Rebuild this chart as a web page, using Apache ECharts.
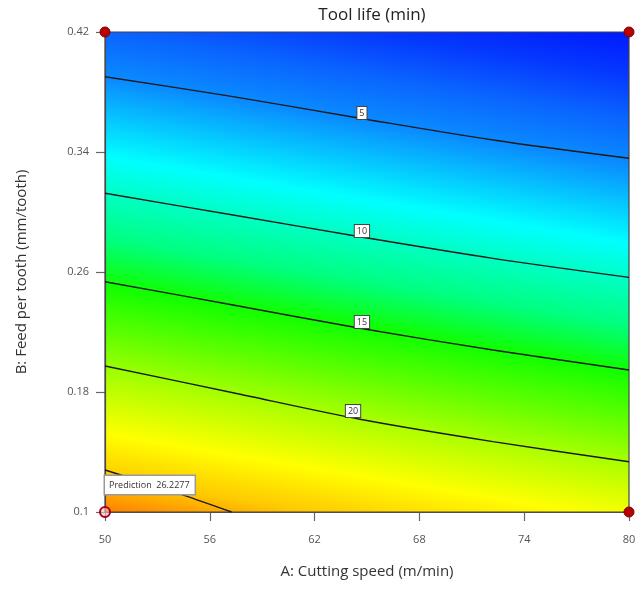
<!DOCTYPE html>
<html>
<head>
<meta charset="utf-8">
<title>Tool life (min)</title>
<script src="https://cdn.jsdelivr.net/npm/echarts@6/dist/echarts.min.js"></script>
<style>
  html, body { margin: 0; padding: 0; background: #fff; }
  #chart { width: 644px; height: 590px; }
</style>
</head>
<body>
<div id="chart"></div>
<script>
// axis ticks
var xTicks = [50, 56, 62, 68, 74, 80];
var yTicks = [0.1, 0.18, 0.26, 0.34, 0.42];

// contour levels and points: [cutting speed, feed per tooth]
var levels = [5, 10, 15, 20, 25];
var contour5 = [[50, 0.3902], [57.33, 0.3769], [64.6, 0.3625], [72.21, 0.348], [80, 0.3358]];
var contour10 = [[50, 0.3125], [57.33, 0.298], [64.6, 0.2835], [72.21, 0.2691], [80, 0.2564]];
var contour15 = [[50, 0.2535], [57.33, 0.238], [64.6, 0.2225], [72.21, 0.208], [80, 0.1947]];
var contour20 = [[50, 0.1973], [57.33, 0.1795], [64.6, 0.1618], [72.21, 0.1469], [80, 0.1335]];
var contour25 = [[50, 0.128], [54.48, 0.1113], [57.25, 0.1]];
var contours = [contour5, contour10, contour15, contour20, contour25];

// where the level labels sit
var labelX = [64.71, 64.71, 64.71, 64.2, 53.3];
var labelY = [0.366, 0.2873, 0.2267, 0.1673, 0.12];

// design points (corners) and the prediction
var designPoints = [[50, 0.42], [80, 0.42], [80, 0.1]];
var predictionPoint = [50, 0.1];
var predictionValue = 26.2277;

var font = '"Open Sans", "Noto Sans", sans-serif';
var chart = echarts.init(document.getElementById('chart'));

var series = [];
for (var i = 0; i < contours.length; i++) {
    series.push({
        name: 'contour ' + levels[i],
        type: 'line',
        data: contours[i],
        smooth: 0.3,
        symbol: 'none',
        silent: true,
        z: 3,
        lineStyle: { color: '#1a1a1a', width: 1.4 }
    });
}

var labelData = [];
for (var i = 0; i < levels.length; i++) {
    labelData.push([labelX[i], labelY[i], levels[i]]);
}
series.push({
    name: 'labels',
    type: 'scatter',
    data: labelData,
    symbolSize: 0,
    silent: true,
    z: 4,
    itemStyle: { opacity: 1 },
    label: {
        show: true,
        position: 'inside',
        formatter: function (p) { return p.value[2]; },
        fontFamily: font,
        fontSize: 9,
        color: '#333',
        backgroundColor: '#fff',
        borderColor: '#444',
        borderWidth: 1,
        padding: [2, 2, 1, 2]
    }
});

series.push({
    name: 'prediction',
    type: 'scatter',
    data: [predictionPoint],
    symbolSize: 10,
    z: 6,
    itemStyle: { opacity: 1, color: 'rgba(255,190,190,0.6)', borderColor: '#a0001a', borderWidth: 2 },
    label: {
        show: true,
        position: [6, -30],
        align: 'left',
        verticalAlign: 'top',
        formatter: 'Prediction  ' + predictionValue,
        fontFamily: font,
        fontSize: 9,
        color: '#333',
        backgroundColor: '#fff',
        borderColor: '#999',
        borderWidth: 1.5,
        padding: [5, 5, 4, 4]
    }
});

series.push({
    name: 'design points',
    type: 'scatter',
    data: designPoints,
    symbolSize: 10,
    z: 6,
    clip: false,
    itemStyle: { opacity: 1, color: '#b80000', borderColor: '#7a0000', borderWidth: 1 }
});

var option = {
    animation: false,
    title: {
        text: 'Tool life (min)',
        left: 367,
        top: 2,
        textAlign: 'center',
        textStyle: { fontFamily: font, fontSize: 17, fontWeight: 'normal', color: '#222' }
    },
    grid: { left: 105, right: 15, top: 32, bottom: 78 },
    xAxis: {
        type: 'value',
        min: 50,
        max: 80,
        interval: 6,
        name: 'A: Cutting speed (m/min)',
        nameLocation: 'middle',
        nameGap: 52,
        nameTextStyle: { fontFamily: font, fontSize: 15, color: '#333' },
        axisLine: { show: true, lineStyle: { color: '#555', width: 1.2 } },
        axisTick: { show: true, length: 9, lineStyle: { color: '#666', width: 1.2 } },
        axisLabel: {
            margin: 22,
            fontFamily: font,
            fontSize: 11,
            color: '#555',
            customValues: xTicks
        },
        splitLine: { show: false }
    },
    yAxis: {
        type: 'value',
        min: 0.1,
        max: 0.42,
        interval: 0.08,
        name: 'B: Feed per tooth (mm/tooth)',
        nameLocation: 'middle',
        nameGap: 76,
        nameTextStyle: { fontFamily: font, fontSize: 15, color: '#333' },
        axisLine: { show: true, lineStyle: { color: '#555', width: 1.2 } },
        axisTick: { show: true, length: 9, lineStyle: { color: '#666', width: 1.2 } },
        axisLabel: {
            margin: 16,
            fontFamily: font,
            fontSize: 11,
            color: '#555',
            customValues: yTicks,
            formatter: function (v) { return String(+v.toFixed(2)); }
        },
        splitLine: { show: false }
    },
    series: series
};
chart.setOption(option);

// colour field behind the contours, laid out from the axes' own scale
var tl = chart.convertToPixel({ gridIndex: 0 }, [50, 0.42]);
var br = chart.convertToPixel({ gridIndex: 0 }, [80, 0.1]);
var cx = (tl[0] + br[0]) / 2;
var k = 0.165; // tilt of the colour bands
var T1 = -45, T2 = 525;
var n = 1 + k * k;
var x1 = cx - k * T1 / n, y1 = tl[1] + T1 / n;
var x2 = cx - k * T2 / n, y2 = tl[1] + T2 / n;
var bands = [
    [-45, '#0018ff'], [0, '#0538ff'], [43, '#0a64ff'], [90, '#0a8cff'],
    [168, '#00ffff'], [205, '#00ffc4'], [250, '#00ff80'], [296, '#10ff00'],
    [345, '#60ff00'], [392, '#b0ff00'], [445, '#ffff00'], [490, '#ffc800'],
    [525, '#ff7a00']
];
var stops = bands.map(function (b) {
    return { offset: (b[0] - T1) / (T2 - T1), color: b[1] };
});

chart.setOption({
    graphic: [{
        type: 'rect',
        z: -1,
        silent: true,
        shape: { x: tl[0], y: tl[1], width: br[0] - tl[0], height: br[1] - tl[1] },
        style: { fill: new echarts.graphic.LinearGradient(x1, y1, x2, y2, stops, true) }
    }, {
        type: 'rect',
        z: 1,
        silent: true,
        shape: { x: tl[0], y: tl[1], width: br[0] - tl[0], height: br[1] - tl[1] },
        style: { fill: 'none', stroke: '#444', lineWidth: 1.2 }
    }]
});
</script>
</body>
</html>
